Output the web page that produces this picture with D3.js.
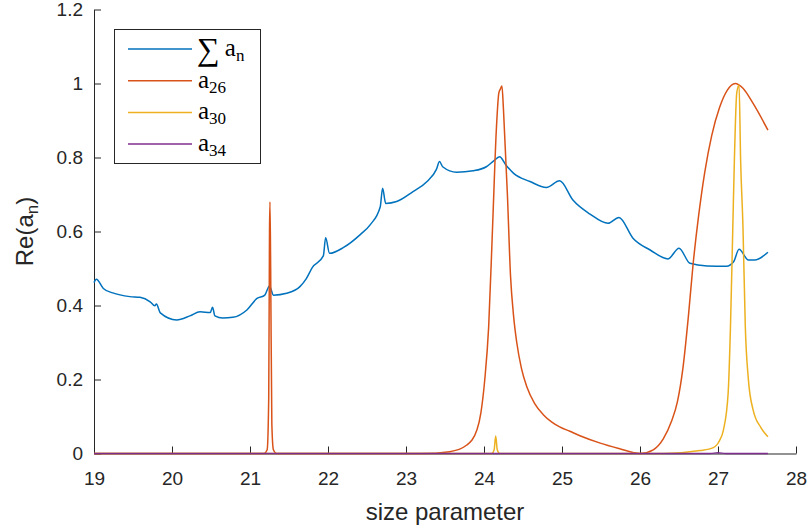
<!DOCTYPE html>
<html>
<head>
<meta charset="utf-8">
<script src="https://cdn.jsdelivr.net/npm/d3@7"></script>
<style>
    body { margin: 0; background: #fff; }
    svg { display: block; }
    .tick text { font-family: "Liberation Sans", Arial, sans-serif; }
</style>
</head>
<body>
<div id="chart"></div>
<script>
// x ticks and y ticks
var xTicks = [19, 20, 21, 22, 23, 24, 25, 26, 27, 28];
var yTicks = [0, 0.2, 0.4, 0.6, 0.8, 1, 1.2];

// sum of coefficients
var sumX = [19.0, 19.03, 19.12, 19.24, 19.46, 19.59, 19.72, 19.78, 19.80, 19.85, 20.06, 20.23, 20.36, 20.49, 20.52, 20.55,
    20.65, 20.78, 20.96, 21.09, 21.19, 21.25, 21.30, 21.47, 21.64, 21.72, 21.80, 21.94, 21.97, 22.02, 22.20, 22.41,
    22.54, 22.67, 22.70, 22.74, 22.88, 23.09, 23.27, 23.39, 23.43, 23.47, 23.65, 23.86, 24.03, 24.12, 24.20, 24.28,
    24.38, 24.59, 24.80, 24.97, 25.14, 25.36, 25.59, 25.73, 25.91, 26.13, 26.36, 26.50, 26.64, 26.86, 27.11, 27.20,
    27.27, 27.39, 27.47, 27.64];
var sumY = [0.462, 0.471, 0.446, 0.434, 0.424, 0.422, 0.41, 0.399, 0.404, 0.38, 0.361, 0.372, 0.383, 0.381, 0.395, 0.372,
    0.366, 0.368, 0.388, 0.419, 0.428, 0.453, 0.428, 0.433, 0.451, 0.472, 0.503, 0.534, 0.583, 0.541, 0.557, 0.591,
    0.618, 0.667, 0.717, 0.676, 0.681, 0.708, 0.735, 0.768, 0.789, 0.775, 0.76, 0.764, 0.775, 0.79, 0.802, 0.78,
    0.757, 0.735, 0.719, 0.737, 0.685, 0.647, 0.622, 0.638, 0.582, 0.55, 0.526, 0.555, 0.514, 0.507, 0.506, 0.518,
    0.552, 0.523, 0.523, 0.544];

// a26
var a26X = [19.0, 21.18, 21.22, 21.24, 21.25, 21.256, 21.265, 21.28, 21.30, 21.34, 23.2, 23.56, 23.78, 23.91, 23.96,
    24.01, 24.06, 24.11, 24.16, 24.19, 24.21, 24.23, 24.25, 24.30, 24.34, 24.38, 24.42, 24.48, 24.55, 24.65, 24.76,
    24.87, 24.97, 25.10, 25.23, 25.49, 25.75, 25.91, 26.0, 26.17, 26.30, 26.40, 26.48, 26.55, 26.62, 26.68, 26.75,
    26.83, 26.92, 27.02, 27.12, 27.22, 27.32, 27.45, 27.64];
var a26Y = [0, 0, 0.01, 0.15, 0.6, 0.68, 0.5, 0.08, 0.01, 0, 0, 0.005, 0.023, 0.064, 0.11,
    0.2, 0.343, 0.613, 0.883, 0.974, 0.985, 0.993, 0.928, 0.70, 0.48, 0.37, 0.30, 0.23, 0.18, 0.135, 0.105,
    0.085, 0.072, 0.06, 0.048, 0.028, 0.012, 0.003, 0, 0.01, 0.04, 0.085, 0.14, 0.23, 0.37, 0.51, 0.64,
    0.76, 0.86, 0.935, 0.982, 1.0, 0.987, 0.946, 0.874];

// a30
var a30X = [19.0, 24.10, 24.13, 24.15, 24.17, 24.20, 26.3, 26.77, 26.94, 27.02, 27.07, 27.13, 27.16, 27.19, 27.21,
    27.24, 27.27, 27.29, 27.32, 27.35, 27.39, 27.45, 27.55, 27.64];
var a30Y = [0, 0, 0.01, 0.047, 0.01, 0, 0, 0.008, 0.016, 0.035, 0.064, 0.163, 0.343, 0.613, 0.793,
    0.974, 0.996, 0.793, 0.613, 0.343, 0.199, 0.118, 0.07, 0.045];

// a34
var a34X = [19.0, 26.9, 27.0, 27.1, 27.64];
var a34Y = [0, 0, 0.002, 0, 0];

var seriesNames = ["sum", "a26", "a30", "a34"];
var seriesColours = ["#0072BD", "#D95319", "#EDB120", "#7E2F8E"];

function drawChart(target) {
    var width = 807;
    var height = 528;
    var margin = { top: 9.5, right: 11, bottom: 74.5, left: 94 };
    var plotWidth = width - margin.left - margin.right;
    var plotHeight = height - margin.top - margin.bottom;
    var axisColour = "#262626";

    var svg = d3.select(target)
        .append("svg")
        .attr("width", width)
        .attr("height", height);

    var container = svg.append("g")
        .attr("transform", `translate(${margin.left},${margin.top})`);

    var x = d3.scaleLinear().domain([19, 28]).range([0, plotWidth]);
    var y = d3.scaleLinear().domain([0, 1.2]).range([plotHeight, 0]);

    var xAxis = container.append("g")
        .attr("transform", `translate(0,${plotHeight})`)
        .call(d3.axisBottom(x).tickValues(xTicks).tickFormat(d3.format("d"))
            .tickSizeInner(-7).tickSizeOuter(0).tickPadding(18));
    var yAxis = container.append("g")
        .call(d3.axisLeft(y).tickValues(yTicks).tickFormat(d => String(d))
            .tickSizeInner(-7).tickSizeOuter(0).tickPadding(11));

    [xAxis, yAxis].forEach(function (ax) {
        ax.select(".domain").attr("stroke", axisColour).attr("stroke-width", 1);
        ax.selectAll(".tick line").attr("stroke", axisColour).attr("stroke-width", 1);
        ax.selectAll(".tick text")
            .attr("fill", axisColour)
            .style("font-size", "19px");
    });

    var line = d3.line()
        .x(d => x(d[0]))
        .y(d => y(d[1]))
        .curve(d3.curveMonotoneX);

    var allX = [sumX, a26X, a30X, a34X];
    var allY = [sumY, a26Y, a30Y, a34Y];
    var series = allX.map((xs, i) => xs.map((v, j) => [v, allY[i][j]]));

    container.append("g")
        .attr("class", "lines")
        .selectAll("path")
        .data(series)
        .enter()
        .append("path")
        .attr("d", line)
        .attr("fill", "none")
        .attr("stroke", (d, i) => seriesColours[i])
        .attr("stroke-width", 1.5)
        .attr("stroke-linejoin", "round");

    // axis labels
    svg.append("text")
        .attr("x", margin.left + plotWidth / 2)
        .attr("y", 520)
        .attr("text-anchor", "middle")
        .attr("fill", axisColour)
        .style("font-family", "Liberation Sans, Arial, sans-serif")
        .style("font-size", "24px")
        .text("size parameter");

    var yLabel = svg.append("text")
        .attr("transform", `translate(33,${margin.top + plotHeight / 2}) rotate(-90)`)
        .attr("text-anchor", "middle")
        .attr("fill", axisColour)
        .style("font-family", "Liberation Sans, Arial, sans-serif")
        .style("font-size", "24px");
    yLabel.append("tspan").text("Re(a");
    yLabel.append("tspan").attr("dy", 5).style("font-size", "17px").text("n");
    yLabel.append("tspan").attr("dy", -5).text(")");

    // legend
    var legend = svg.append("g").attr("class", "legend");
    legend.append("rect")
        .attr("x", 114.5)
        .attr("y", 29.5)
        .attr("width", 146)
        .attr("height", 134)
        .attr("fill", "#fff")
        .attr("stroke", axisColour)
        .attr("stroke-width", 1);

    var legendRows = legend.selectAll("g.row")
        .data(seriesNames)
        .enter()
        .append("g")
        .attr("class", "row")
        .attr("transform", (d, i) => `translate(0,${49 + i * 31.7})`);

    legendRows.append("line")
        .attr("x1", 128)
        .attr("x2", 192)
        .attr("stroke", (d, i) => seriesColours[i])
        .attr("stroke-width", 1.5);

    legendRows.each(function (d, i) {
        var row = d3.select(this);
        var t = row.append("text")
            .attr("y", 7)
            .attr("fill", "#000")
            .style("font-family", "Liberation Serif, DejaVu Serif, serif")
            .style("font-size", "25px");
        if (d == "sum") {
            t.attr("x", 197);
            t.append("tspan").style("font-size", "32px").attr("dy", 4).text("\u2211");
            t.append("tspan").attr("dx", 5).attr("dy", -4).text("a");
            t.append("tspan").attr("dy", 5).style("font-size", "17px").text("n");
        } else {
            t.attr("x", 198);
            t.append("tspan").text("a");
            t.append("tspan").attr("dy", 5).style("font-size", "17px").text(d.slice(1));
        }
    });
}

drawChart(document.getElementById("chart"));
</script>
</body>
</html>
